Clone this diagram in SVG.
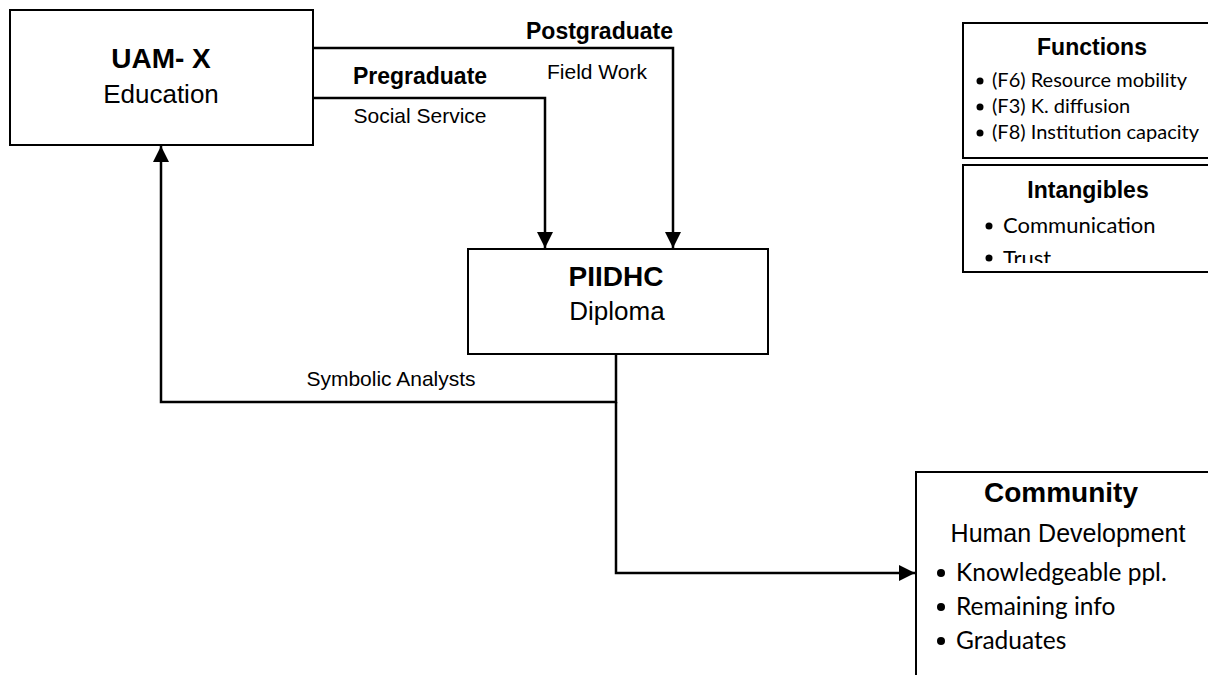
<svg xmlns="http://www.w3.org/2000/svg" width="1208" height="675" viewBox="0 0 1208 675">
<style>
.box{fill:#fff;stroke:#000;stroke-width:2}
.ln{fill:none;stroke:#000;stroke-width:2.5}
.b{font-family:"Liberation Sans",Arial,sans-serif;font-weight:bold;fill:#000}
.r{font-family:"Liberation Sans",Arial,sans-serif;fill:#000}
.c{font-family:Lato,"Noto Sans",sans-serif;fill:#000}
</style>
<defs>
<marker id="ah" viewBox="0 0 16 16" refX="16" refY="8" markerWidth="16" markerHeight="16" markerUnits="userSpaceOnUse" orient="auto">
<path d="M0,0 L16,8 L0,16 Z" fill="#000"/>
</marker>
<clipPath id="clipInt"><rect x="960" y="160" width="260" height="103"/></clipPath>
</defs>
<g id="connectors">
<path class="ln" d="M313,48 H673 V248" marker-end="url(#ah)"/>
<path class="ln" d="M313,98 H545 V248" marker-end="url(#ah)"/>
<path class="ln" d="M616,354 V402 H161 V146" marker-end="url(#ah)"/>
<path class="ln" d="M616,402 V573 H915" marker-end="url(#ah)"/>
<text class="b" x="673" y="39" font-size="23" text-anchor="end">Postgraduate</text>
<text class="r" x="597" y="79" font-size="21" text-anchor="middle">Field Work</text>
<text class="b" x="420" y="84" font-size="23" text-anchor="middle">Pregraduate</text>
<text class="r" x="420" y="123" font-size="21" text-anchor="middle">Social Service</text>
<text class="r" x="391" y="386" font-size="21" text-anchor="middle">Symbolic Analysts</text>
</g>
<g id="uam">
<rect class="box" x="10" y="10" width="303" height="135"/>
<text class="b" x="161" y="68" font-size="28" text-anchor="middle">UAM- X</text>
<text class="r" x="161" y="103" font-size="26" text-anchor="middle">Education</text>
</g>
<g id="piidhc">
<rect class="box" x="468" y="249" width="300" height="105"/>
<text class="b" x="616" y="286" font-size="28" text-anchor="middle">PIIDHC</text>
<text class="r" x="617" y="320" font-size="26" text-anchor="middle">Diploma</text>
</g>
<g id="community">
<rect class="box" x="916" y="472" width="300" height="220"/>
<text class="b" x="1061" y="502" font-size="28" text-anchor="middle">Community</text>
<text class="r" x="1068" y="542" font-size="25" text-anchor="middle">Human Development</text>
<circle cx="941" cy="573" r="4"/>
<text class="c" x="956" y="581" font-size="24.5">Knowledgeable ppl.</text>
<circle cx="941" cy="607" r="4"/>
<text class="c" x="956" y="615" font-size="24.5">Remaining info</text>
<circle cx="941" cy="641" r="4"/>
<text class="c" x="956" y="649" font-size="24.5">Graduates</text>
</g>
<g id="functions">
<rect class="box" x="963" y="23" width="260" height="135"/>
<text class="b" x="1092" y="55" font-size="23" text-anchor="middle">Functions</text>
<circle cx="980" cy="81" r="3.5"/>
<text class="c" x="992" y="87" font-size="20">(F6) Resource mobility</text>
<circle cx="980" cy="107" r="3.5"/>
<text class="c" x="992" y="113" font-size="20">(F3) K. diffusion</text>
<circle cx="980" cy="133" r="3.5"/>
<text class="c" x="992" y="139" font-size="20">(F8) Institution capacity</text>
</g>
<g id="intangibles">
<rect class="box" x="963" y="165" width="260" height="107"/>
<text class="b" x="1088" y="198" font-size="23" text-anchor="middle">Intangibles</text>
<g clip-path="url(#clipInt)">
<circle cx="989" cy="226" r="3.5"/>
<text class="c" x="1003" y="233" font-size="22">Communication</text>
<circle cx="989" cy="258" r="3.5"/>
<text class="c" x="1003" y="266" font-size="22">Trust</text>
</g>
</g>
</svg>
